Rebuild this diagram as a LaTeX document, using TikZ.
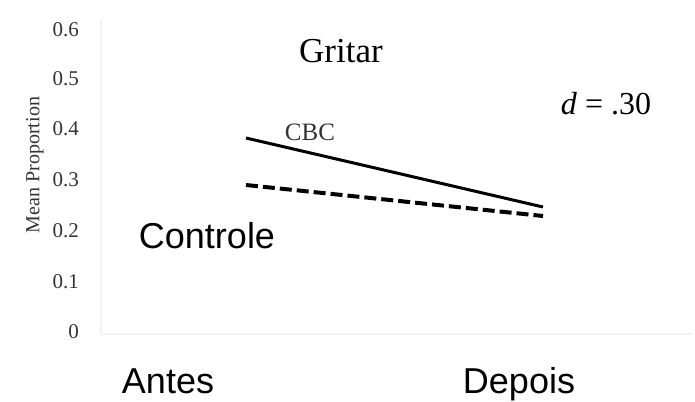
\documentclass[tikz,border=0pt]{standalone}
\usepackage{fontspec}
\setmainfont{Liberation Serif}
\setsansfont{Liberation Sans}
\usepackage{tikz}
\usetikzlibrary{positioning}

\begin{document}
\begin{tikzpicture}[x=1pt, y=-1pt]
  \tikzstyle{frame}=[draw=black!5, line width=1.5pt]
  \tikzstyle{ticklabel}=[anchor=east, inner sep=0pt, font=\fontsize{21}{22}\selectfont, text=black!80]
  \tikzstyle{bigsans}=[anchor=base, inner sep=0pt, font=\sffamily\fontsize{36}{40}\selectfont]
  \tikzstyle{serif}=[anchor=base, inner sep=0pt]
  \tikzstyle{series}=[line width=3pt]
  \tikzstyle{control}=[series, line width=4pt, dash pattern=on 12pt off 5pt]

  \useasboundingbox (0,0) rectangle (695,401);

  % faint plot frame
  \coordinate (top) at (101,20);
  \coordinate (origin) at (101,334);
  \coordinate (right) at (693,334);
  \draw[frame] (top) -- (origin) -- (right);

  % y axis
  \foreach \v/\y in {0/332, 0.1/282, 0.2/231, 0.3/180, 0.4/129, 0.5/79, 0.6/30}
    \node (tick\y) at (79,\y) [ticklabel] {\v};
  \node (ylabel) at (35,165) [rotate=90, inner sep=0pt, font=\fontsize{20}{22}\selectfont, text=black!80] {Mean Proportion};

  % data
  \coordinate (cbcA) at (246,138);
  \coordinate (cbcB) at (543,207);
  \coordinate (ctlA) at (246,185);
  \coordinate (ctlB) at (543,216);
  \draw[control] (ctlA) -- (ctlB);
  \draw[series] (cbcA) -- (cbcB);

  % labels
  \node (title) at (341,63) [serif, font=\fontsize{35}{38}\selectfont] {Gritar};
  \node (cbc) at (310,140) [serif, font=\fontsize{25}{27}\selectfont, text=black!80] {CBC};
  \node (effect) at (606,114) [serif, font=\fontsize{32}{34}\selectfont] {\emph{d} = .30};
  \node (ctl) at (207,248) [bigsans] {Controle};
  \node (antes) at (168,393) [bigsans] {Antes};
  \node (depois) at (519,393) [bigsans] {Depois};
\end{tikzpicture}
\end{document}
